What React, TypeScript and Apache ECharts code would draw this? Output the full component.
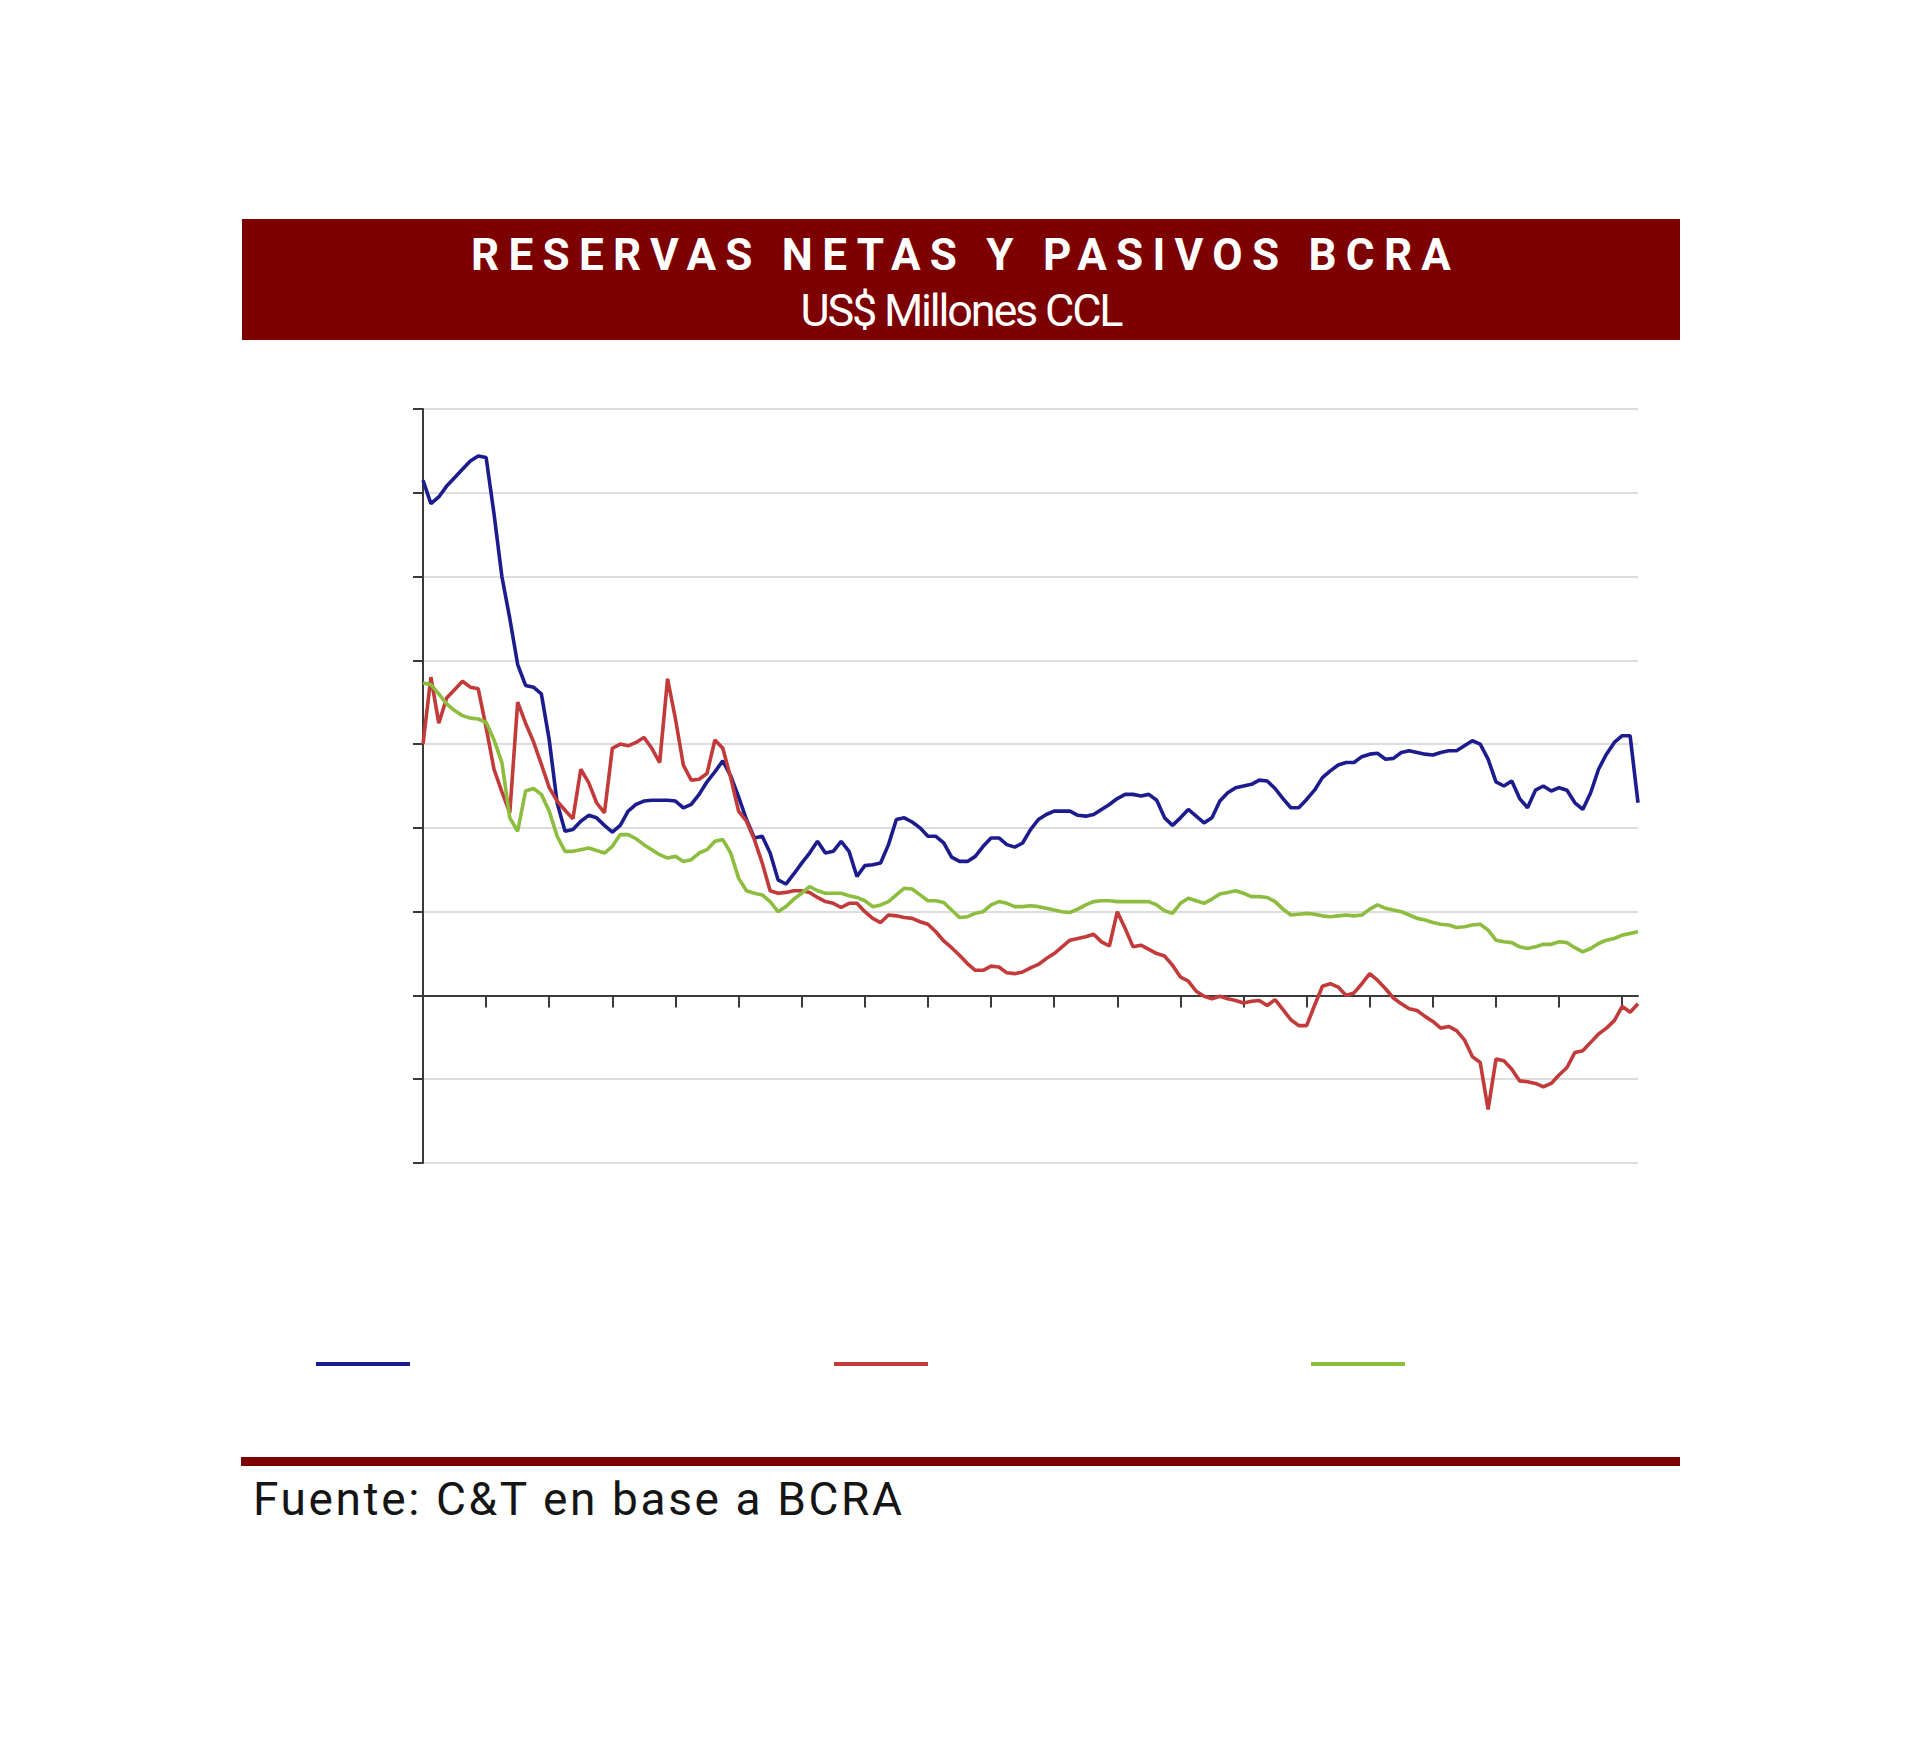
import React, { useEffect, useRef, useMemo } from 'react';
import * as echarts from 'echarts';

const TITLE = 'RESERVAS NETAS Y PASIVOS BCRA';
const SUBTITLE = 'US$ Millones CCL';
const SOURCE = 'Fuente: C&T en base a BCRA';

const SERIES_NAMES = ['Reservas netas', 'Reservas netas menos pasivos', 'Pasivos BCRA'];
const SERIES_COLORS = ['#1c1c8f', '#c23a3a', '#8cbd3f'];

// 155 observation slots (period index)
const CATEGORIES = Array.from({ length: 155 }, (_, i) => `P${i + 1}`);

const Y_MIN = -20000;
const Y_MAX = 70000;
const Y_INTERVAL = 10000;

const BLUE = [
  61500, 58700, 59500, 60800, 61800, 62800, 63800, 64400, 64200, 57500,
  50000, 45000, 39500, 37000, 36800, 36000, 30500, 23000, 19600, 19800,
  20800, 21500, 21200, 20300, 19500, 20300, 22000, 22800, 23200, 23300,
  23300, 23300, 23200, 22400, 22800, 24000, 25500, 26700, 28000, 26200,
  23700, 21000, 18800, 19000, 17000, 13800, 13300, 14500, 15800, 17000,
  18400, 17000, 17200, 18400, 17200, 14200, 15500, 15600, 15800, 18000,
  21000, 21200, 20700, 20000, 19000, 19000, 18200, 16500, 16000, 16000,
  16600, 17800, 18800, 18800, 18000, 17700, 18200, 19800, 21000, 21600,
  22000, 22000, 22000, 21500, 21400, 21600, 22200, 22800, 23500, 24000,
  24000, 23800, 24000, 23300, 21200, 20300, 21200, 22200, 21400, 20600,
  21200, 23200, 24200, 24800, 25000, 25200, 25700, 25600, 24700, 23500,
  22400, 22400, 23400, 24500, 26000, 26800, 27500, 27800, 27800, 28500,
  28800, 28900, 28200, 28300, 29000, 29200, 29000, 28800, 28700, 29000,
  29200, 29200, 29800, 30400, 30000, 28200, 25500, 25000, 25600, 23500,
  22400, 24500, 25000, 24400, 24800, 24500, 23000, 22200, 24200, 27000,
  28800, 30200, 31000, 31000, 23000,
];

const RED = [
  30000, 38000, 32500, 35500, 36500, 37500, 36800, 36600, 32000, 27000,
  24300, 21800, 35000, 32500, 30300, 27600, 24800, 23200, 22100, 21100,
  27000, 25400, 23000, 21800, 29500, 30000, 29800, 30200, 30800, 29500,
  27800, 37800, 33000, 27500, 25700, 25800, 26500, 30500, 29500, 26000,
  22000, 20800, 18600, 15800, 12500, 12200, 12300, 12500, 12500, 12300,
  11700, 11200, 11000, 10500, 11000, 11000, 10000, 9200, 8700, 9600,
  9500, 9300, 9200, 8800, 8500, 7600, 6500, 5700, 4800, 3800,
  3000, 3000, 3500, 3400, 2700, 2600, 2800, 3300, 3700, 4400,
  5000, 5800, 6600, 6800, 7000, 7300, 6400, 5900, 10000, 8000,
  5800, 6000, 5500, 5000, 4700, 3600, 2200, 1700, 500, -100,
  -400, -100, -400, -600, -900, -700, -600, -1200, -500, -1700,
  -2900, -3600, -3600, -1200, 1100, 1400, 1000, 0, 300, 1400,
  2600, 1800, 800, -300, -1000, -1600, -1800, -2500, -3100, -3900,
  -3700, -4200, -5300, -7300, -8000, -13600, -7600, -7800, -8800, -10200,
  -10300, -10500, -10900, -10500, -9500, -8600, -6800, -6600, -5600, -4600,
  -3900, -3000, -1300, -2000, -1000,
];

const GREEN = [
  37300, 37100, 36000, 34800, 34000, 33400, 33100, 33000, 32600, 30500,
  27800, 21200, 19600, 24400, 24700, 24000, 22000, 19000, 17200, 17200,
  17400, 17600, 17300, 17000, 17800, 19200, 19200, 18700, 18000, 17400,
  16800, 16400, 16600, 16000, 16200, 17000, 17400, 18400, 18600, 17000,
  14000, 12500, 12200, 12000, 11200, 10000, 10600, 11500, 12200, 13000,
  12500, 12200, 12200, 12200, 11900, 11700, 11300, 10600, 10800, 11200,
  12000, 12800, 12700, 12000, 11300, 11300, 11100, 10200, 9300, 9400,
  9800, 10000, 10800, 11200, 11000, 10600, 10600, 10700, 10600, 10400,
  10200, 10000, 9900, 10300, 10800, 11200, 11300, 11300, 11200, 11200,
  11200, 11200, 11200, 10800, 10100, 9800, 11000, 11600, 11300, 11000,
  11500, 12100, 12300, 12500, 12200, 11800, 11800, 11700, 11200, 10300,
  9600, 9700, 9800, 9700, 9500, 9400, 9500, 9600, 9500, 9600,
  10300, 10800, 10400, 10200, 10000, 9600, 9200, 9000, 8700, 8500,
  8400, 8100, 8200, 8400, 8500, 7800, 6600, 6400, 6300, 5800,
  5600, 5800, 6100, 6100, 6400, 6300, 5700, 5200, 5600, 6200,
  6600, 6800, 7200, 7400, 7600,
];

const SERIES_DATA = [BLUE, RED, GREEN];
const LEGEND_LEFT = [316, 834, 1311];

function spacingFor(text: string, font: string, target: number): number {
  try {
    const ctx = document.createElement('canvas').getContext('2d');
    if (!ctx) return 0;
    ctx.font = font;
    const w = ctx.measureText(text).width;
    return (target - w) / (text.length - 1);
  } catch (e) {
    return 0;
  }
}

export default function App() {
  const ref = useRef<HTMLDivElement>(null);

  const sp = useMemo(
    () => ({
      title: spacingFor(TITLE, 'bold 44px Roboto', 980),
      sub: spacingFor(SUBTITLE, '45px Roboto', 323),
      src: spacingFor(SOURCE, '46px Roboto', 650),
    }),
    []
  );

  useEffect(() => {
    if (!ref.current) return;
    const chart = echarts.init(ref.current, null, { renderer: 'svg' });
    chart.setOption({
      animation: false,
      backgroundColor: '#ffffff',
      grid: { left: 423, top: 409, width: 1215, height: 754 },
      xAxis: {
        type: 'category',
        data: CATEGORIES,
        boundaryGap: false,
        axisLine: { onZero: true, lineStyle: { color: '#3a3a3a', width: 2 } },
        axisTick: { show: true, interval: 7, length: 12, lineStyle: { color: '#3a3a3a', width: 2 } },
        axisLabel: { show: false },
        splitLine: { show: false },
      },
      yAxis: {
        type: 'value',
        min: Y_MIN,
        max: Y_MAX,
        interval: Y_INTERVAL,
        axisLine: { show: true, lineStyle: { color: '#3a3a3a', width: 2 } },
        axisTick: { show: true, length: 10, lineStyle: { color: '#3a3a3a', width: 2 } },
        axisLabel: { show: false },
        splitLine: { show: true, lineStyle: { color: '#dddddd', width: 2 } },
      },
      legend: SERIES_NAMES.map((name, k) => ({
        data: [name],
        left: LEGEND_LEFT[k],
        top: 1362,
        padding: 0,
        icon: 'rect',
        itemWidth: 94,
        itemHeight: 4,
        itemGap: 0,
        selectedMode: false,
        formatter: () => '',
        textStyle: { fontSize: 1, color: 'rgba(0,0,0,0)' },
      })),
      series: SERIES_NAMES.map((name, k) => ({
        name,
        type: 'line',
        data: SERIES_DATA[k],
        showSymbol: false,
        symbol: 'none',
        color: SERIES_COLORS[k],
        itemStyle: { color: SERIES_COLORS[k] },
        lineStyle: { color: SERIES_COLORS[k], width: 3.6 },
        z: 3,
      })),
      graphic: [
        {
          type: 'rect',
          shape: { x: 242, y: 219, width: 1438, height: 121 },
          style: { fill: '#7d0000' },
        },
        {
          type: 'text',
          x: 961 + sp.title / 2,
          y: 255,
          style: {
            text: TITLE,
            fill: '#ffffff',
            fontSize: 44,
            fontWeight: 'bold',
            fontFamily: 'Roboto',
            align: 'center',
            verticalAlign: 'middle',
            textAlign: 'center',
            textVerticalAlign: 'middle',
          },
        },
        {
          type: 'text',
          x: 962 + sp.sub / 2,
          y: 310,
          style: {
            text: SUBTITLE,
            fill: '#ffffff',
            fontSize: 45,
            fontFamily: 'Roboto',
            align: 'center',
            verticalAlign: 'middle',
            textAlign: 'center',
            textVerticalAlign: 'middle',
          },
        },
        {
          type: 'rect',
          shape: { x: 241, y: 1457, width: 1439, height: 9 },
          style: { fill: '#7d0000' },
        },
        {
          type: 'text',
          x: 253,
          y: 1499,
          style: {
            text: SOURCE,
            fill: '#151515',
            fontSize: 46,
            fontFamily: 'Roboto',
            align: 'left',
            verticalAlign: 'middle',
            textAlign: 'left',
            textVerticalAlign: 'middle',
          },
        },
      ],
    });
    return () => chart.dispose();
  }, [sp]);

  const css =
    `text[style*="44px"]{letter-spacing:${sp.title.toFixed(2)}px;}` +
    `text[style*="45px"]{letter-spacing:${sp.sub.toFixed(2)}px;}` +
    `text[style*="46px"]{letter-spacing:${sp.src.toFixed(2)}px;}`;

  return (
    <>
      <style>{css}</style>
      <div
        ref={ref}
        style={{ position: 'absolute', left: 0, top: 0, width: 1920, height: 1741, background: '#ffffff' }}
      />
    </>
  );
}
